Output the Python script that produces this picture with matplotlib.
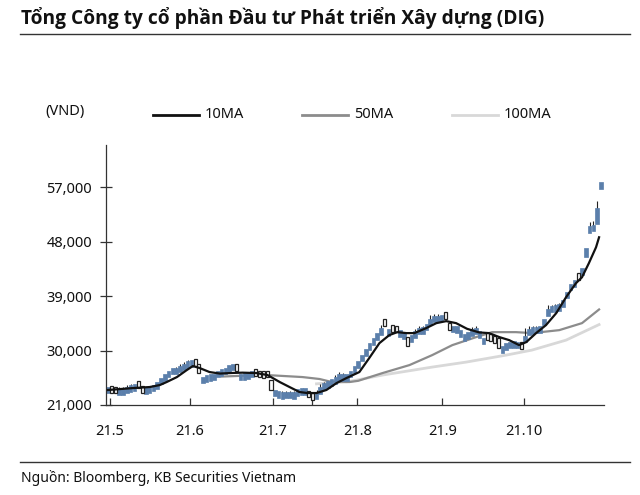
import matplotlib
matplotlib.use("Agg")
import matplotlib.pyplot as plt
import numpy as np

plt.rcParams['font.family'] = ['Noto Sans', 'DejaVu Sans']

# ---- data ----
closes = [23600, 23500, 23400, 23300, 23300, 23700, 23900, 24000, 24200, 23200,
          23500, 23700, 24000, 24400, 25300, 26000, 26500, 26700, 26700, 27200,
          27600, 28000, 28000, 27800, 26300, 25300, 25500, 25600, 25800, 26300,
          26600, 26800, 27200, 27500, 27000, 25800, 25800, 26000, 26300, 26200,
          26000, 26000, 26000, 23500, 23200, 22900, 22700, 22800, 22800, 22700,
          23200, 23400, 23400, 22600, 22300, 22700, 23800, 24300, 24600, 24900,
          25300, 25800, 25600, 25700, 26500, 27300, 28200, 29300, 30000, 30900,
          31900, 32800, 33500, 34200, 33200, 33300, 33200, 33000, 32600, 30700,
          32300, 33000, 33500, 33400, 34200, 35200, 35400, 35300, 35600, 35500,
          33600, 33700, 33600, 32900, 32300, 32600, 33300, 33400, 32800, 31700,
          32200, 32000, 31700, 30500, 30300, 30800, 31100, 31200, 31000, 30600,
          32200, 33300, 33500, 33500, 33600, 35100, 36800, 37000, 37100, 37300,
          38000, 39600, 41000, 41600, 41700, 43300, 47000, 50500, 50600, 53500,
          57700]
opens = [23400, 23700, 23600, 23200, 23000, 23300, 23600, 23800, 24600, 23900,
         23200, 23400, 23600, 24000, 24600, 25200, 25800, 26500, 26600, 26700,
         27000, 27500, 27700, 28200, 27800, 25000, 25200, 25400, 25500, 25900,
         26200, 26500, 26800, 27100, 27500, 25500, 25600, 25800, 26000, 26500,
         26200, 26100, 26300, 25100, 22800, 22500, 22500, 22500, 22500, 22500,
         22900, 23000, 23100, 23000, 22600, 22300, 23000, 23800, 24200, 24500,
         24900, 25300, 25400, 25400, 25800, 26500, 27300, 28300, 29300, 30400,
         31000, 31900, 32800, 35000, 32800, 34000, 33900, 32600, 32300, 32200,
         31800, 32400, 33000, 33200, 33600, 34300, 35000, 35100, 35200, 36000,
         34400, 33400, 33400, 32700, 32000, 32300, 32700, 33100, 32600, 31500,
         32500, 32300, 32000, 32100, 30000, 30500, 30800, 30900, 30800, 31100,
         31600, 32800, 33100, 33300, 33300, 34400, 35900, 36700, 36900, 37000,
         37500, 38800, 40000, 40500, 42800, 42800, 45500, 49500, 50000, 51000,
         56800]

wick_days = [3, 4, 5, 6, 18, 19, 20, 21, 41, 46, 47, 48, 49, 55, 56, 57, 60, 61, 62,
             72, 81, 82, 83, 85, 86, 87, 96, 97, 110, 111, 112, 113, 116, 117, 118,
             119, 127, 128, 129]
wick_highs = [24000, 24000, 24300, 24400, 27300, 27700, 28100, 28500, 26600, 23300,
              23300, 23300, 23300, 23400, 24400, 24800, 25900, 26400, 26300, 34200,
              33600, 34100, 34100, 35900, 36000, 36000, 33900, 34000, 33800, 34000,
              34100, 34100, 37500, 37600, 37700, 37900, 51300, 51400, 54800]

ma10_day = [0, 6.6, 11, 13.7, 15.5, 18.2, 20.8, 22.4, 24.2, 26.8, 29.5, 32.9, 35.5,
            39.2, 42.1, 45.3, 47.9, 50.5, 52.6, 55, 57.6, 60.3, 62.9, 66.3, 68.9,
            71.6, 74.2, 76.3, 78.7, 80.8, 83.9, 86.6, 89.2, 91.8, 94.7, 97.9, 100.5,
            103.2, 105.8, 108.4, 110.3, 112.9, 115.5, 118.2, 120.8, 123.4, 125,
            126.8, 128.7, 129.5]
ma10_val = [23480, 23800, 23970, 24300, 24800, 25620, 26780, 27440, 27110, 26450,
            26200, 26300, 26350, 26280, 25950, 24800, 23970, 23150, 22980, 22980,
            23480, 24630, 25460, 26450, 28760, 31240, 32560, 33050, 32890, 32890,
            33710, 34540, 34870, 34540, 33600, 33000, 32890, 32230, 31730, 30910,
            31400, 32890, 34210, 36190, 38830, 41140, 42130, 44440, 47090, 48740]

ma50_day = [30, 36, 42, 51.3, 55.8, 58.4, 63.7, 66, 72.4, 79.5, 85.5, 90.8, 97.1,
            101.3, 107.6, 111.8, 119, 125, 129.5]
ma50_val = [25700, 25850, 25950, 25620, 25300, 24900, 24800, 25000, 26280, 27600,
            29250, 30900, 32230, 33050, 33050, 32890, 33380, 34540, 36800]

ma100_day = [55, 58, 62.9, 72.4, 85.5, 94.5, 105, 111.8, 120.8, 129.5]
ma100_val = [24500, 24650, 24800, 25950, 27270, 28100, 29250, 30080, 31730, 34300]

xtick_pos = [0.5, 21.6, 43.4, 53.9, 65.8, 88.2, 109.7]
xtick_labels = ['21.5', '21.6', '21.7', '', '21.8', '21.9', '21.10']
yticks = [21000, 30000, 39000, 48000, 57000]

legend_names = ['10MA', '50MA', '100MA']
legend_colors = ['#111111', '#8c8c8c', '#d8d8d8']

title = 'Tổng Công ty cổ phần Đầu tư Phát triển Xây dựng (DIG)'
source = 'Nguồn: Bloomberg, KB Securities Vietnam'

# ---- figure ----
fig = plt.figure(figsize=(6.4, 4.95), dpi=100)
ax = fig.add_axes([106/640, 1 - 405/495, (604-106)/640, (405-145)/495])

blue = '#5b7fab'
days = np.arange(len(closes))
c = np.array(closes, dtype=float)
o = np.array(opens, dtype=float)
mid = (c + o) / 2
height = np.maximum(np.abs(c - o), 1100)
bottom = mid - height / 2
up = c >= o

ax.plot(ma100_day, ma100_val, color=legend_colors[2], lw=2.0, zorder=1)
ax.plot(ma50_day, ma50_val, color=legend_colors[1], lw=1.6, zorder=1)
wd = np.array(wick_days)
wick_low = (bottom + height)[wd] - 400
ax.vlines(wd, wick_low, wick_highs, color='#222222', lw=0.8, zorder=2)
ax.bar(days[up], height[up], bottom=bottom[up], width=0.95, color=blue,
       edgecolor=blue, linewidth=0.5, zorder=2)
ax.bar(days[~up], height[~up], bottom=bottom[~up], width=0.8, color='white',
       edgecolor='#222222', linewidth=0.9, zorder=3)
ax.plot(ma10_day, ma10_val, color=legend_colors[0], lw=1.6, zorder=4)

ax.set_xlim(-0.5, 130.8)
ax.set_ylim(21000, 64000)
ax.set_yticks(yticks)
ax.set_yticklabels([f'{v:,}' for v in yticks])
ax.set_xticks(xtick_pos)
ax.set_xticklabels(xtick_labels)
for s in ['top', 'right']:
    ax.spines[s].set_visible(False)
for s in ['left', 'bottom']:
    ax.spines[s].set_color('#333333')
    ax.spines[s].set_linewidth(0.9)
ax.tick_params(axis='y', direction='inout', length=8, width=0.9, colors='#333333',
               labelsize=10.5, labelcolor='#111111', pad=6)
ax.tick_params(axis='x', direction='in', length=5, width=0.9, colors='#333333',
               labelsize=10.5, labelcolor='#111111', pad=14)

# title and rules
fig.text(21/640, 1 - 18/495, title, fontsize=13.8, fontweight='bold',
         family=['Open Sans', 'DejaVu Sans'],
         va='center', ha='left', color='#111111')
fig.add_artist(plt.Line2D([20/640, 630/640], [1 - 34/495, 1 - 34/495],
                          color='#333333', lw=1.0))
fig.add_artist(plt.Line2D([20/640, 630/640], [1 - 462/495, 1 - 462/495],
                          color='#333333', lw=1.0))
fig.text(21/640, 1 - 478/495, source, fontsize=10, va='center', ha='left',
         color='#111111')

# legend
fig.text(65/640, 1 - 112/495, '(VND)', fontsize=10.5, va='center', ha='center',
         color='#111111')
leg_x = [153, 302, 452]
for name, col, lx in zip(legend_names, legend_colors, leg_x):
    y = 1 - 115/495
    fig.add_artist(plt.Line2D([lx/640, (lx + 46)/640], [y, y], color=col, lw=2.0))
    fig.text((lx + 52)/640, y, name, fontsize=10.5, va='center', ha='left',
             color='#111111')

fig.savefig('out.png', dpi=100)
